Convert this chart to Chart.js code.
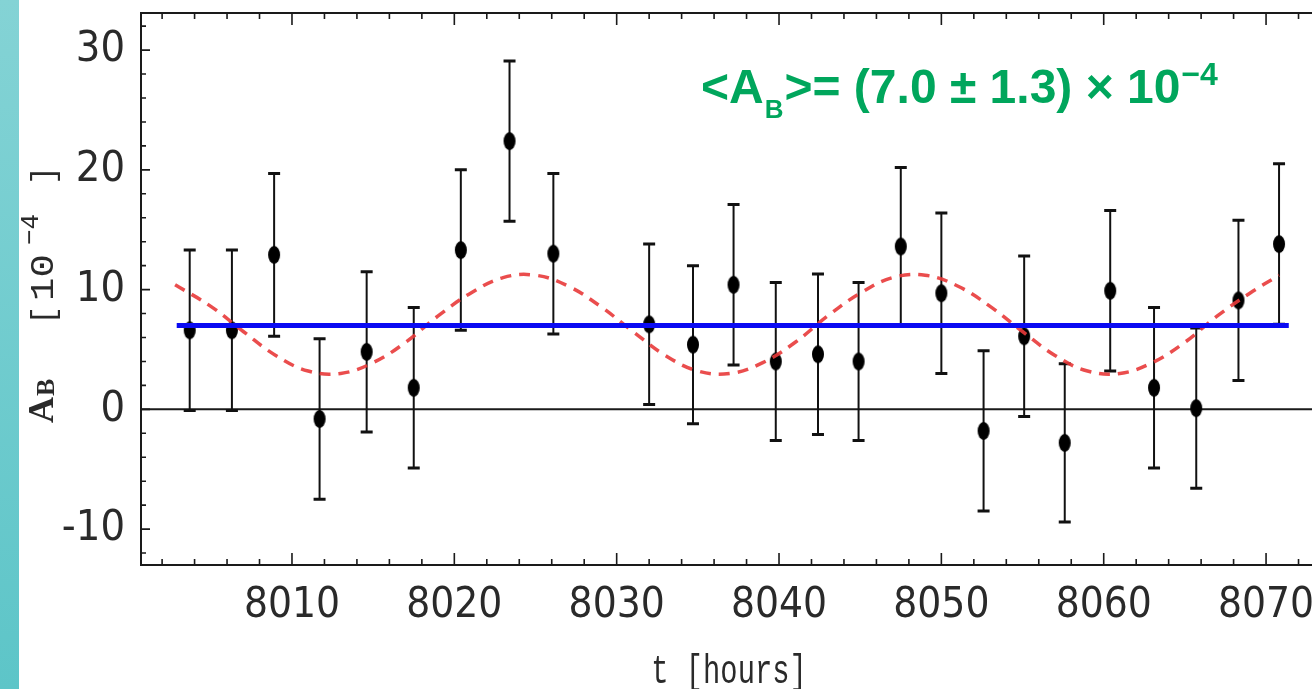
<!DOCTYPE html>
<html>
<head>
<meta charset="utf-8">
<script src="https://cdn.jsdelivr.net/npm/chart.js@4.4.1/dist/chart.umd.min.js"></script>
<style>
  html, body { margin: 0; padding: 0; background: #fff; overflow: hidden; }
  #faixa { position: absolute; left: 0; top: 0; width: 19px; height: 689px;
    background: linear-gradient(to bottom, #84d3d5, #5dc5c8); }
  #grafico { position: absolute; left: 0; top: 0; }
</style>
</head>
<body>
<div id="faixa"></div>
<canvas id="grafico" width="1312" height="689"></canvas>
<script>
const tHoras = [8003.7, 8006.3, 8008.9, 8011.7, 8014.6, 8017.5, 8020.4, 8023.4, 8026.1,
  8032.0, 8034.7, 8037.2, 8039.8, 8042.4, 8044.9, 8047.5, 8050.0, 8052.6, 8055.1,
  8057.6, 8060.4, 8063.1, 8065.7, 8068.3, 8070.8];
const valoresAB = [6.6, 6.6, 12.9, -0.8, 4.8, 1.8, 13.3, 22.4, 13.0,
  7.1, 5.4, 10.4, 4.0, 4.6, 4.0, 13.6, 9.7, -1.8, 6.1,
  -2.8, 9.9, 1.8, 0.1, 9.1, 13.8];
const errosAB = [6.7, 6.7, 6.8, 6.7, 6.7, 6.7, 6.7, 6.7, 6.7,
  6.7, 6.6, 6.7, 6.6, 6.7, 6.6, 6.6, 6.7, 6.7, 6.7,
  6.6, 6.7, 6.7, 6.7, 6.7, 6.7];

// curva tracejada (ajuste senoidal), lida ponto a ponto
const ajusteT = [8002.8, 8005, 8007, 8009, 8011, 8013, 8015, 8017, 8019, 8021, 8023, 8025,
  8027, 8029, 8031, 8033, 8035, 8037, 8039, 8041, 8043, 8045, 8047, 8049,
  8051, 8053, 8055, 8057, 8059, 8061, 8063, 8065, 8067, 8069, 8070.8];
const ajusteA = [10.4, 8.6, 6.5, 4.5, 3.2, 3.0, 3.9, 5.6, 7.8, 9.7, 11.0, 11.2,
  10.3, 8.6, 6.5, 4.5, 3.2, 3.0, 3.9, 5.6, 7.8, 9.7, 11.0, 11.2,
  10.3, 8.6, 6.5, 4.5, 3.2, 3.0, 3.9, 5.6, 7.8, 9.7, 11.2];

// media constante
const mediaT = [8002.9, 8071.4];
const mediaA = 7.0;

const ticksX = [8010, 8020, 8030, 8040, 8050, 8060, 8070];
const ticksY = [-10, 0, 10, 20, 30];

const corTexto = '#2a2a2a';
const fonteEstreita = "'Liberation Sans Narrow', 'DejaVu Sans Condensed', 'Liberation Sans', sans-serif";

// ponto elíptico (mais alto que largo)
function criarPonto() {
  const c = document.createElement('canvas');
  c.width = 14; c.height = 20;
  const g = c.getContext('2d');
  g.fillStyle = '#000';
  g.beginPath();
  g.ellipse(7, 10, 6, 9, 0, 0, Math.PI * 2);
  g.fill();
  return c;
}

// sem folga extra para os rótulos das pontas
function semFolga(s) {
  s.paddingTop = 0; s.paddingBottom = 0;
  s.paddingLeft = 0; s.paddingRight = 0;
}

const molduraEBarras = {
  id: 'molduraEBarras',
  beforeDatasetsDraw(chart) {
    const { ctx, chartArea: a, scales: { x, y } } = chart;
    ctx.save();
    ctx.strokeStyle = '#1a1a1a';
    ctx.lineWidth = 2;
    // moldura (a borda direita fica fora da imagem)
    ctx.beginPath();
    ctx.moveTo(a.right + 2, a.top); ctx.lineTo(a.left, a.top);
    ctx.lineTo(a.left, a.bottom); ctx.lineTo(a.right + 2, a.bottom);
    ctx.stroke();

    // marcas internas
    ctx.lineWidth = 1.6;
    ctx.beginPath();
    for (let v = 8002; v <= 8072; v += 2) {
      const px = x.getPixelForValue(v);
      const len = v % 10 === 0 ? 12 : 6;
      ctx.moveTo(px, a.bottom); ctx.lineTo(px, a.bottom - len);
      ctx.moveTo(px, a.top); ctx.lineTo(px, a.top + len);
    }
    for (let v = -12; v <= 32; v += 2) {
      const py = y.getPixelForValue(v);
      const len = v % 10 === 0 ? 9 : 5;
      ctx.moveTo(a.left, py); ctx.lineTo(a.left + len, py);
    }
    ctx.stroke();

    // linha do zero
    ctx.lineWidth = 2;
    ctx.beginPath();
    const y0 = y.getPixelForValue(0);
    ctx.moveTo(a.left, y0); ctx.lineTo(a.right, y0);
    ctx.stroke();

    // barras de erro
    ctx.strokeStyle = '#111';
    tHoras.forEach((t, i) => {
      const px = x.getPixelForValue(t);
      const pTop = y.getPixelForValue(valoresAB[i] + errosAB[i]);
      const pBot = y.getPixelForValue(valoresAB[i] - errosAB[i]);
      ctx.lineWidth = 2;
      ctx.beginPath();
      ctx.moveTo(px, pTop); ctx.lineTo(px, pBot);
      ctx.stroke();
      ctx.lineWidth = 3;
      ctx.beginPath();
      ctx.moveTo(px - 6, pTop); ctx.lineTo(px + 6, pTop);
      ctx.moveTo(px - 6, pBot); ctx.lineTo(px + 6, pBot);
      ctx.stroke();
    });
    ctx.restore();
  }
};

const textos = {
  id: 'textos',
  afterDraw(chart) {
    const { ctx } = chart;
    ctx.save();

    // titulo do eixo x, estreitado
    ctx.fillStyle = corTexto;
    ctx.textBaseline = 'alphabetic';
    ctx.textAlign = 'center';
    ctx.save();
    ctx.translate(729, 683);
    ctx.scale(0.72, 1);
    ctx.font = "40px 'Liberation Mono', 'DejaVu Sans Mono', monospace";
    ctx.fillText('t [hours]', 0, 0);
    ctx.restore();

    // titulo do eixo y (girado)
    ctx.save();
    ctx.translate(53, 423);
    ctx.rotate(-Math.PI / 2);
    ctx.textAlign = 'left';
    ctx.font = "bold 36px 'Liberation Serif', serif";
    ctx.fillText('A', 0, 0);
    ctx.font = "bold 26px 'Liberation Serif', serif";
    ctx.fillText('B', 27, 1);
    ctx.font = "32px 'Liberation Mono', monospace";
    ctx.fillText('[', 98, 0);
    ctx.font = "34px 'Liberation Mono', monospace";
    ctx.save();
    ctx.translate(122, 0);
    ctx.scale(1.15, 1);
    ctx.fillText('10', 0, 0);
    ctx.restore();
    ctx.font = "26px 'Liberation Mono', monospace";
    ctx.fillText('\u22124', 178, -15);
    ctx.font = "32px 'Liberation Mono', monospace";
    ctx.fillText(']', 238, 0);
    ctx.restore();

    // anotacao verde
    ctx.fillStyle = '#00a65c';
    ctx.textAlign = 'left';
    let px = 701;
    const base = 103;
    ctx.font = "bold 48px 'Liberation Sans', Arial, sans-serif";
    ctx.fillText('<A', px, base);
    px += ctx.measureText('<A').width + 1;
    ctx.font = "bold 26px 'Liberation Sans', Arial, sans-serif";
    ctx.fillText('B', px, base + 15);
    px += ctx.measureText('B').width + 1;
    ctx.font = "bold 48px 'Liberation Sans', Arial, sans-serif";
    const meio = '>= (7.0 \u00b1 1.3) \u00d7 10';
    ctx.fillText(meio, px, base);
    px += ctx.measureText(meio).width + 1;
    ctx.font = "bold 32px 'Liberation Sans', Arial, sans-serif";
    ctx.fillText('\u22124', px, base - 18);
    ctx.restore();
  }
};

const ctx = document.getElementById('grafico').getContext('2d');
new Chart(ctx, {
  type: 'scatter',
  data: {
    datasets: [
      {
        label: 'media',
        type: 'line',
        data: mediaT.map(t => ({ x: t, y: mediaA })),
        borderColor: '#0a0af2',
        borderWidth: 5,
        pointRadius: 0,
        order: 0
      },
      {
        label: 'ajuste',
        type: 'line',
        data: ajusteT.map((t, i) => ({ x: t, y: ajusteA[i] })),
        borderColor: 'rgba(232, 58, 58, 0.9)',
        borderWidth: 3.5,
        borderDash: [11, 8],
        pointRadius: 0,
        tension: 0.4,
        order: 1
      },
      {
        label: 'A_B',
        data: tHoras.map((t, i) => ({ x: t, y: valoresAB[i] })),
        pointStyle: criarPonto(),
        pointRadius: 9,
        order: 2
      }
    ]
  },
  options: {
    responsive: false,
    animation: false,
    layout: { autoPadding: false, padding: { top: 13, left: 19, right: 0, bottom: 0 } },
    plugins: { legend: { display: false }, tooltip: { enabled: false } },
    scales: {
      x: {
        type: 'linear',
        min: 8000.7,
        max: 8072.83,
        afterBuildTicks: s => { s.ticks = ticksX.map(v => ({ value: v })); },
        afterFit: s => { s.height = 124; semFolga(s); },
        grid: { display: false, drawTicks: false },
        border: { display: false },
        ticks: {
          padding: 16,
          color: corTexto,
          font: { family: fonteEstreita, size: 42 },
          callback: v => String(v),
          maxRotation: 0
        }
      },
      y: {
        min: -13,
        max: 33.1,
        afterBuildTicks: s => { s.ticks = ticksY.map(v => ({ value: v })); },
        afterFit: s => { s.width = 141 - 19; semFolga(s); },
        grid: { display: false, drawTicks: false },
        border: { display: false },
        ticks: {
          padding: 16,
          color: corTexto,
          font: { family: fonteEstreita, size: 43 }
        }
      }
    }
  },
  plugins: [molduraEBarras, textos]
});
</script>
</body>
</html>
